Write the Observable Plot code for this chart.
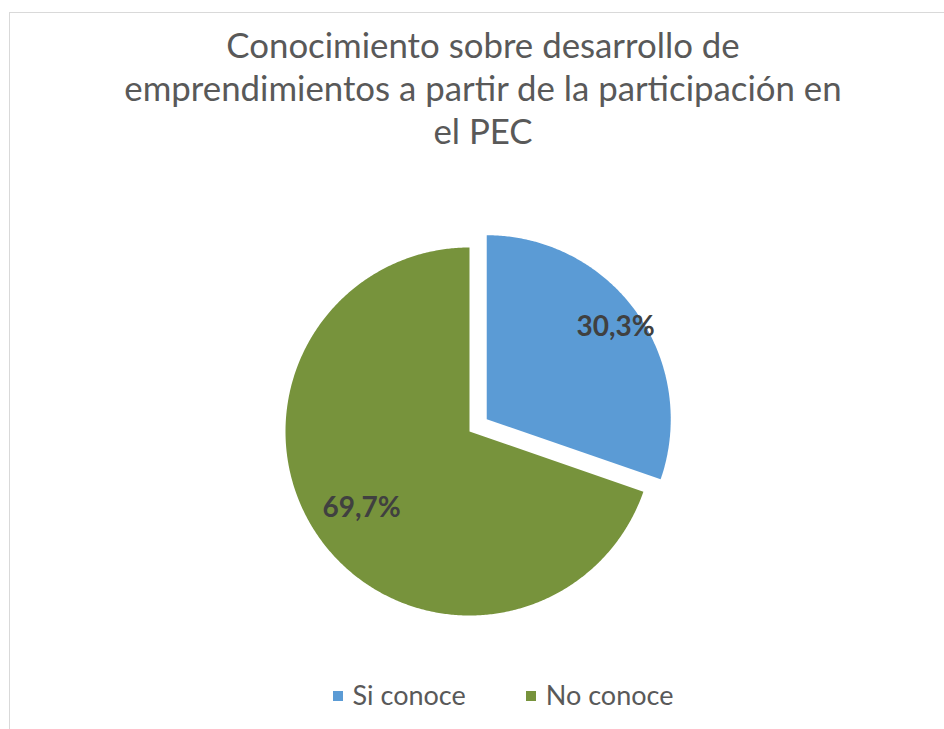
<!DOCTYPE html>
<html><head><meta charset="utf-8">
<script src="https://cdn.jsdelivr.net/npm/d3@7"></script>
<script src="https://cdn.jsdelivr.net/npm/@observablehq/plot@0.6"></script>
<style>
html,body{margin:0;padding:0;background:#fff;width:944px;height:729px;overflow:hidden;font-family:Lato,"Open Sans",sans-serif}
#frame{position:absolute;left:9px;top:12px;width:960px;height:760px;border:1px solid #d9d9d9;box-sizing:border-box}
#title{position:absolute;left:0;width:966px;top:23px;text-align:center;color:#595959;font-size:34.8px;line-height:43px}
#chart{position:absolute;left:0;top:180px}
#legend{position:absolute;top:679px;left:0;width:1006px;text-align:center;color:#595959;font-size:27px;line-height:32px;white-space:nowrap}
#legend span.item{display:inline-block;margin:0 30px}
#legend span.sw{display:inline-block;width:10px;height:10px;margin-right:10px;vertical-align:middle;position:relative;top:-2px}
</style></head>
<body>
<div id="frame"></div>
<div id="title">Conocimiento sobre desarrollo de<br>emprendimientos a partir de la participación en<br>el PEC</div>
<div id="chart"></div>
<div id="legend"></div>
<script>
const categories = ["Si conoce", "No conoce"];
const values = [30.3, 69.7];
const labels = ["30,3%", "69,7%"];
const colors = ["#5B9BD5", "#77933C"];

const total = d3.sum(values);
const explode = [0.115, 0];
const labelR = [0.86, 0.72];
let cum = 0;
const slices = categories.map((c, i) => {
  const a0 = cum / total * 2 * Math.PI;
  cum += values[i];
  const a1 = cum / total * 2 * Math.PI;
  const mid = (a0 + a1) / 2;
  const ox = explode[i] * Math.sin(mid), oy = explode[i] * Math.cos(mid);
  const pts = [{x: ox, y: oy}];
  const n = Math.max(2, Math.ceil((a1 - a0) / (Math.PI / 360)));
  for (let k = 0; k <= n; k++) {
    const a = a0 + (a1 - a0) * k / n;
    pts.push({x: ox + Math.sin(a), y: oy + Math.cos(a)});
  }
  pts.push({x: ox, y: oy});
  return {cat: c, color: colors[i], pts,
    lx: ox + labelR[i] * Math.sin(mid), ly: oy + labelR[i] * Math.cos(mid), label: labels[i]};
});

const W = 944, H = 480, cx = 469, cy = 251, r = 184;
const chart = Plot.plot({
  width: W, height: H, margin: 0,
  x: {domain: [-1, 1], range: [cx - r, cx + r], axis: null},
  y: {domain: [-1, 1], range: [cy + r, cy - r], axis: null},
  style: {background: "transparent", fontFamily: "Lato, 'Open Sans', sans-serif"},
  marks: [
    ...slices.map(s => Plot.line(s.pts, {x: "x", y: "y", fill: s.color, stroke: "none", curve: "linear"})),
    Plot.text(slices, {x: "lx", y: "ly", text: "label", fill: "#404040", fontSize: 28, fontWeight: "bold"})
  ]
});
document.getElementById("chart").appendChild(chart);

const leg = document.getElementById("legend");
categories.forEach((c, i) => {
  const it = document.createElement("span");
  it.className = "item";
  const sw = document.createElement("span");
  sw.className = "sw"; sw.style.background = colors[i];
  it.appendChild(sw);
  it.appendChild(document.createTextNode(c));
  leg.appendChild(it);
});
</script>
</body></html>
